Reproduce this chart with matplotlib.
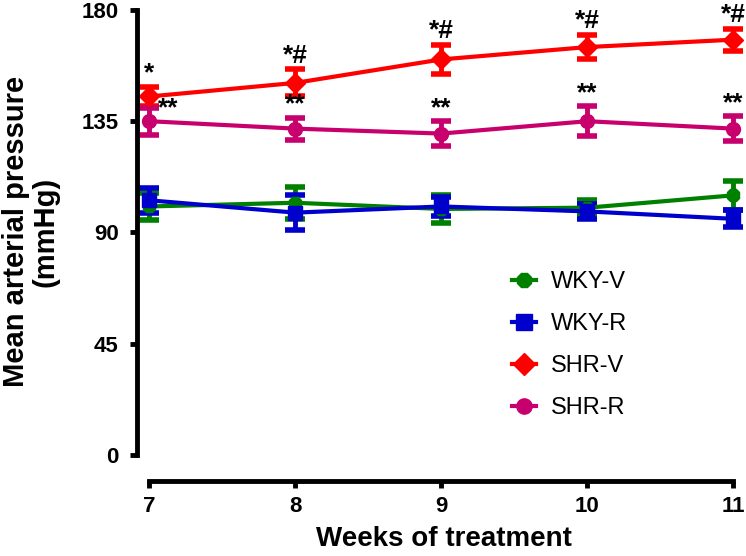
import matplotlib.pyplot as plt
from matplotlib.lines import Line2D

plt.rcParams['font.family'] = ['Liberation Sans', 'DejaVu Sans']

weeks = [7, 8, 9, 10, 11]

wky_v = [100.5, 102, 99.5, 100, 105]
wky_v_err = [5.5, 6.5, 5.5, 3, 6]
wky_r = [103, 98, 100.5, 98.5, 95.5]
wky_r_err = [5, 7, 4, 3, 3.5]
shr_v = [145, 150.5, 160, 165, 168]
shr_v_err = [4, 5.5, 6, 5, 4.5]
shr_r = [135, 132, 130, 135, 132]
shr_r_err = [5.5, 4.5, 5, 6, 5]

shr_v_marks = ["*", "*#", "*#", "*#", "*#"]
shr_r_marks = ["**", "**", "**", "**", "**"]

fig = plt.figure(figsize=(7.46, 5.56), dpi=100)
ax = fig.add_axes([0.200, 0.182, 0.783, 0.800])

series = [
    ("WKY-V", wky_v, wky_v_err, "#008000", "8"),
    ("WKY-R", wky_r, wky_r_err, "#0000CC", "s"),
    ("SHR-V", shr_v, shr_v_err, "#FF0000", "D"),
    ("SHR-R", shr_r, shr_r_err, "#C8006E", "o"),
]
handles = []
for name, vals, errs, col, mk in series:
    ax.errorbar(weeks, vals, yerr=errs, color=col, marker=mk, markersize=10,
                linewidth=3, elinewidth=3.5, capsize=7, capthick=4,
                clip_on=False)
    handles.append(Line2D([0], [0], color=col, marker=mk, markersize=11,
                          linewidth=3, label=name))

for i, w in enumerate(weeks):
    top = shr_v[i] + shr_v_err[i] + 0.5
    ax.text(w, top, shr_v_marks[i], ha='center', va='bottom',
            fontsize=19, fontweight='bold')
    if i == 0:
        ax.text(w + 0.06, shr_r[i] + 0.5, shr_r_marks[i], ha='left', va='bottom',
                fontsize=19, fontweight='bold')
    else:
        ax.text(w, shr_r[i] + shr_r_err[i] + 0.3, shr_r_marks[i], ha='center',
                va='bottom', fontsize=19, fontweight='bold')

ax.set_xlim(7, 11)
ax.set_ylim(0, 180)
ax.set_yticks([0, 45, 90, 135, 180])
ax.set_xticks(weeks)

ax.spines['top'].set_visible(False)
ax.spines['right'].set_visible(False)
ax.spines['left'].set_position(('outward', 9))
ax.spines['bottom'].set_position(('outward', 19))
ax.spines['left'].set_linewidth(3.5)
ax.spines['bottom'].set_linewidth(3.5)
ax.tick_params(width=3.5, length=5, labelsize=16)
ax.tick_params(axis='y', pad=8)
ax.tick_params(axis='x', pad=6)
for lab in ax.get_xticklabels() + ax.get_yticklabels():
    lab.set_fontweight('bold')

fig.text(0.595, 0.018, "Weeks of treatment", ha='center', va='baseline',
         fontsize=20, fontweight='bold')
fig.text(0.041, 0.583, "Mean arterial pressure\n(mmHg)", ha='center',
         va='center', rotation=90, multialignment='center', fontsize=21,
         fontweight='bold', linespacing=1.05)

ax.legend(handles=handles, loc='upper left', bbox_to_anchor=(0.658, 0.551),
          bbox_transform=fig.transFigure, frameon=False, fontsize=17,
          handlelength=1.0, labelspacing=0.85, handletextpad=0.65)

plt.savefig("out.png", dpi=100)
